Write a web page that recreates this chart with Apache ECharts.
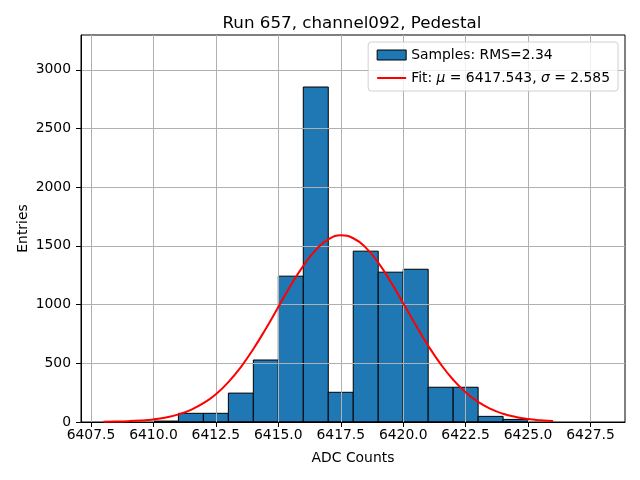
<!DOCTYPE html>
<html>
<head>
<meta charset="utf-8">
<script src="https://cdn.jsdelivr.net/npm/echarts@6/dist/echarts.min.js"></script>
<style>
  html, body { margin: 0; padding: 0; background: #fff; }
  #chart { width: 640px; height: 480px; }
</style>
</head>
<body>
<div id="chart"></div>
<script>
// histogram bins (width 1 ADC count)
const binEdges = [6410, 6411, 6412, 6413, 6414, 6415, 6416, 6417, 6418, 6419, 6420, 6421, 6422, 6423, 6424, 6425];
const binCounts = [8, 74, 74, 246, 528, 1242, 2853, 253, 1455, 1276, 1301, 296, 296, 48, 22];

// gaussian fit curve
const fitX = [6408, 6408.5, 6409, 6409.5, 6410, 6410.5, 6411, 6411.5, 6412, 6412.5, 6413, 6413.5,
  6414, 6414.5, 6415, 6415.5, 6416, 6416.5, 6417, 6417.5, 6418, 6418.5, 6419, 6419.5,
  6420, 6420.5, 6421, 6421.5, 6422, 6422.5, 6423, 6423.5, 6424, 6424.5, 6425, 6425.5, 6426];
const fitY = [2, 3.5, 7, 13, 22, 39, 65, 104, 160, 237, 340, 468,
  622, 795, 980, 1164, 1330, 1466, 1555, 1590, 1565, 1485, 1357, 1194,
  1012, 827, 650, 493, 360, 253, 171, 112, 70, 43, 25, 14, 7.5];

const xTicks = [6407.5, 6410, 6412.5, 6415, 6417.5, 6420, 6422.5, 6425, 6427.5];
const yTicks = [0, 500, 1000, 1500, 2000, 2500, 3000];

const histData = binCounts.map((c, i) => [binEdges[i], binEdges[i + 1], c]);
const fitData = fitX.map((x, i) => [x, fitY[i]]);

const font = 'DejaVu Sans';

const chart = echarts.init(document.getElementById('chart'));
chart.setOption({
    animation: false,
    textStyle: { fontFamily: font },
    title: {
        text: 'Run 657, channel092, Pedestal',
        left: 347, top: 10, textAlign: 'center',
        textStyle: { fontFamily: font, fontSize: 16.7, fontWeight: 'normal', color: '#000' }
    },
    grid: {
        left: 81, right: 15, top: 35, bottom: 58,
        show: true, borderColor: '#000', borderWidth: 1
    },
    legend: {
        orient: 'vertical',
        right: 22, top: 42,
        padding: [6, 8, 6, 8],
        itemGap: 9,
        itemWidth: 29, itemHeight: 10,
        backgroundColor: 'rgba(255,255,255,0.8)',
        borderColor: '#d0d0d0', borderWidth: 1, borderRadius: 3,
        textStyle: {
            fontFamily: font, fontSize: 13.9, color: '#000',
            rich: {
                n: { fontFamily: font, fontSize: 13.9, color: '#000' },
                i: { fontFamily: font, fontSize: 13.9, color: '#000', fontStyle: 'italic' }
            }
        },
        data: [
            { name: 'Samples', icon: 'rect', itemStyle: { color: '#1f77b4', borderColor: '#000', borderWidth: 1 } },
            { name: 'Fit', itemStyle: { opacity: 0 }, lineStyle: { color: '#ff0000', width: 2 } }
        ],
        formatter: function (name) {
            if (name === 'Samples') return '{n|Samples: RMS=2.34}';
            return '{n|Fit: }{i|μ}{n| = 6417.543, }{i|σ}{n| = 2.585}';
        }
    },
    xAxis: {
        type: 'value',
        min: 6407.1, max: 6428.88,
        name: 'ADC Counts', nameLocation: 'middle', nameGap: 29,
        nameTextStyle: { fontFamily: font, fontSize: 13.9, color: '#000' },
        axisLine: { show: true, lineStyle: { color: '#000', width: 1 } },
        axisTick: { show: true, length: 5, lineStyle: { color: '#000' }, customValues: xTicks },
        axisLabel: {
            fontFamily: font, fontSize: 13.9, color: '#000', margin: 6,
            customValues: xTicks,
            formatter: v => v.toFixed(1)
        },
        splitLine: { show: true, lineStyle: { color: '#b0b0b0', width: 1 } }
    },
    yAxis: {
        type: 'value',
        min: 0, max: 3296, interval: 500,
        name: 'Entries', nameLocation: 'middle', nameGap: 51,
        nameMoveOverlap: false,
        nameTextStyle: { fontFamily: font, fontSize: 13.9, color: '#000' },
        axisLine: { show: true, lineStyle: { color: '#000', width: 1 } },
        axisTick: { show: true, length: 5, lineStyle: { color: '#000' }, customValues: yTicks },
        axisLabel: {
            fontFamily: font, fontSize: 13.9, color: '#000', margin: 10,
            customValues: yTicks,
            formatter: v => String(v)
        },
        splitLine: { show: true, lineStyle: { color: '#b0b0b0', width: 1 } }
    },
    series: [
        {
            name: 'Samples',
            type: 'custom',
            z: -1,
            itemStyle: { color: '#1f77b4', borderColor: '#000', borderWidth: 1 },
            encode: { x: [0, 1], y: 2 },
            renderItem: function (params, api) {
                const top = api.coord([api.value(0), api.value(2)]);
                const bottom = api.coord([api.value(1), 0]);
                return {
                    type: 'rect',
                    shape: { x: top[0], y: top[1], width: bottom[0] - top[0], height: bottom[1] - top[1] },
                    style: { fill: '#1f77b4', stroke: '#000', lineWidth: 1 }
                };
            },
            data: histData
        },
        {
            name: 'Fit',
            type: 'line',
            smooth: true,
            symbol: 'none',
            z: 5,
            lineStyle: { color: '#ff0000', width: 2 },
            itemStyle: { color: '#ff0000' },
            data: fitData
        }
    ]
});
</script>
</body>
</html>
